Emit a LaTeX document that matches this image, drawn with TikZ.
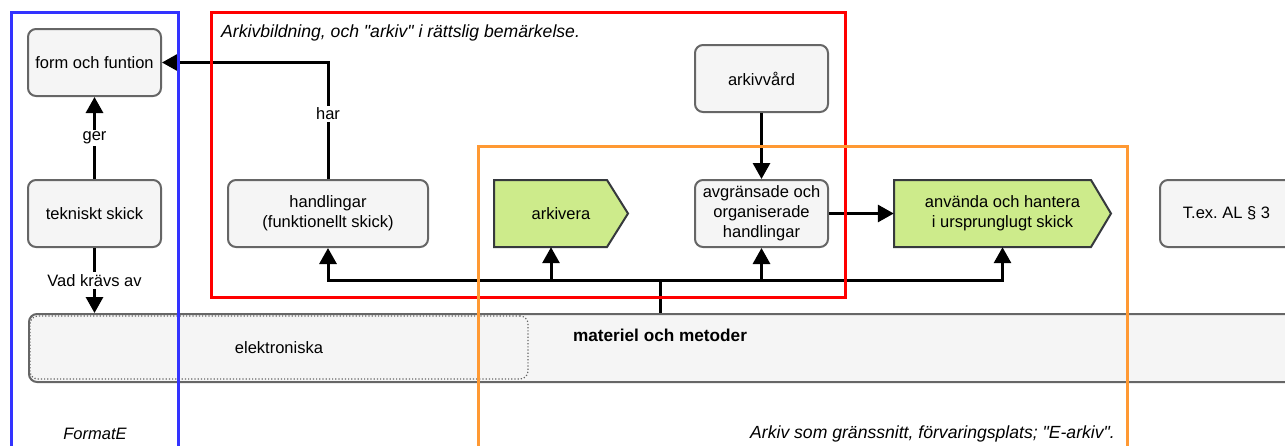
\documentclass[tikz,border=0pt]{standalone}
\usepackage{fontspec}
\setmainfont{Liberation Sans}[Ligatures=TeXOff]
\usetikzlibrary{arrows.meta}
\definecolor{nfill}{HTML}{F5F5F5}
\definecolor{ngray}{HTML}{666666}
\definecolor{gfill}{HTML}{CDEB8B}
\definecolor{gstroke}{HTML}{36393D}
\definecolor{cblue}{HTML}{3333FF}
\definecolor{cred}{HTML}{FF0000}
\definecolor{corange}{HTML}{FF9933}
\newcommand\dfont{\fontsize{16.5}{20}\selectfont}
\newcommand\ifont{\fontsize{17.6}{20}\selectfont}
\frenchspacing
\begin{document}
\begin{tikzpicture}[x=1pt,y=-1pt,
  box/.style={draw=ngray, fill=nfill, line width=2pt, rounded corners=8pt,
    minimum width=133pt, minimum height=67pt, inner sep=2pt, align=center, font=\dfont},
  gtext/.style={draw=none, minimum height=67pt, inner sep=2pt, align=center, font=\dfont},
  gshape/.style={draw=gstroke, fill=gfill, line width=2pt},
  conn/.style={line width=3pt, -{Triangle[length=16pt,width=17pt]}},
  wire/.style={line width=3pt},
  lbl/.style={fill=white, inner sep=2pt, font=\dfont},
  itl/.style={inner sep=0pt, font=\ifont\itshape},
  frame/.style={line width=3pt}
]
\useasboundingbox (0,0) rectangle (1285,445);
\clip (0,0) rectangle (1285,445);

% bottom bar
\node[box, minimum width=1280pt, minimum height=68pt, anchor=north west] (mat) at (28,313) {};
\node[font=\fontsize{17.2}{20}\selectfont\bfseries, inner sep=0pt] (mattxt) at (660,335) {materiel och metoder};
\node[draw=ngray, dotted, rounded corners=8pt, line width=1.2pt, fill=nfill,
  minimum width=498pt, minimum height=63pt, font=\dfont] (el) at (279,347.5) {elektroniska};

% boxes
\node[box] (form) at (94.5,62.5) {form och funtion};
\node[box] (tek) at (94.5,213.5) {tekniskt skick};
\node[box, minimum width=200pt] (hand) at (328,213.5) {handlingar\\(funktionellt skick)};
\node[box] (vard) at (761.5,78.5) {arkivvård};
\node[box] (avg) at (761.5,213.5) {avgränsade och\\organiserade\\handlingar};
\node[box] (tex) at (1226.5,213.5) {T.ex. AL § 3};

% green signal shapes
\draw[gshape] (494,180) -- (607,180) -- (628,213.5) -- (607,247) -- (494,247) -- cycle;
\node[gtext, minimum width=134pt] (ark) at (561,213.5) {arkivera};
\draw[gshape] (894,180) -- (1091,180) -- (1111,213.5) -- (1091,247) -- (894,247) -- cycle;
\node[gtext, minimum width=217pt] (anv) at (1002.5,213.5) {använda och hantera\\i ursprunglugt skick};

% connectors
\draw[conn] (tek) -- node[lbl]{ger} (form);
\draw[conn] (tek.south) -- node[lbl]{Vad krävs av} (tek.south |- mat.north);
\draw[conn] (hand.north) |- node[lbl, pos=0.28]{har} (form.east);
\draw[conn] (vard) -- (avg);
\draw[conn] (avg) -- (anv);

\coordinate (j) at (660,280);
\coordinate (ja) at (551,280);
\draw[conn] (j) -| (hand.south);
\draw[conn] (j) -| (anv.south);
\draw[conn] (j) -| (avg.south);
\draw[conn] (ja) -- (ja |- ark.south);
\draw[wire] (j) -- (j |- mat.north);

% frames
\draw[frame, draw=cblue] (11,12) rectangle (178,470);
\draw[frame, draw=cred] (211,12) rectangle (845,297);
\draw[frame, draw=corange] (478,146) rectangle (1127,470);

% frame texts
\node[itl, anchor=west] (t1) at (221,33) {Arkivbildning, och "arkiv" i rättslig bemärkelse.};
\node[itl, font=\dfont\itshape] (t2) at (95,434) {FormatE};
\node[itl, anchor=east] (t3) at (1115,434) {Arkiv som gränssnitt, förvaringsplats; "E-arkiv".};
\end{tikzpicture}
\end{document}
